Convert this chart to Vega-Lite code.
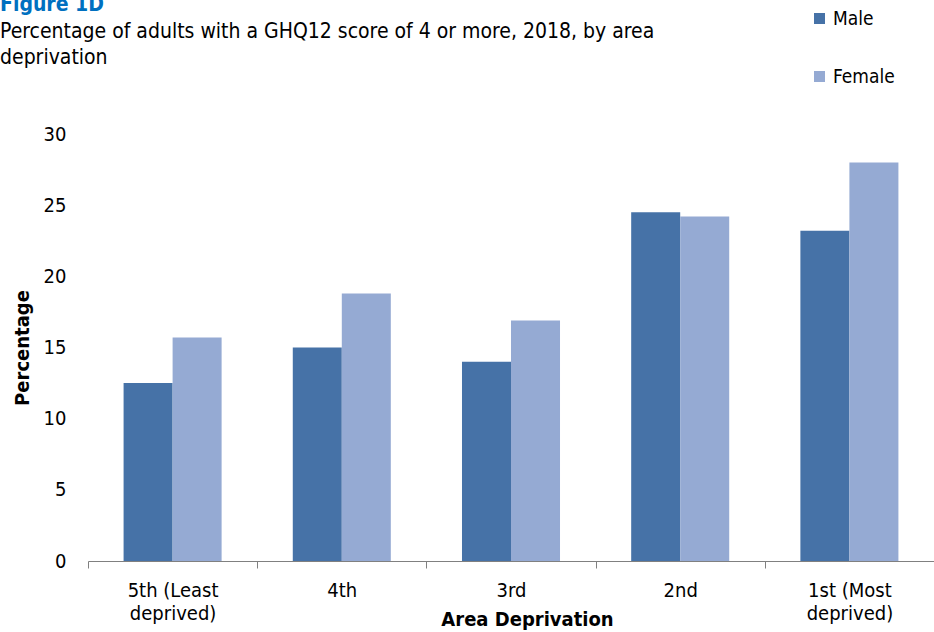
{
  "$schema": "https://vega.github.io/schema/vega-lite/v6.json",
  "autosize": "none",
  "width": 846,
  "height": 427,
  "padding": {"left": 88, "top": 134, "right": 0, "bottom": 71},
  "background": "white",
  "config": {
    "view": {"stroke": null},
    "font": "DejaVu Sans Condensed"
  },
  "title": {
    "text": "Figure  1D",
    "subtitle": ["Percentage of adults with a GHQ12 score of 4 or more, 2018, by area", "deprivation"],
    "anchor": "start",
    "frame": "group",
    "dx": -88,
    "offset": -59,
    "font": "DejaVu Sans Condensed",
    "fontSize": 21,
    "fontWeight": "bold",
    "color": "#0070C0",
    "subtitleFont": "DejaVu Sans Condensed",
    "subtitleFontSize": 21,
    "subtitleColor": "#000000",
    "subtitleLineHeight": 26,
    "subtitlePadding": 6
  },
  "data": {
    "values": [
      {"area": "5th (Least deprived)", "sex": "Male", "pct": 12.5},
      {"area": "5th (Least deprived)", "sex": "Female", "pct": 15.7},
      {"area": "4th", "sex": "Male", "pct": 15.0},
      {"area": "4th", "sex": "Female", "pct": 18.8},
      {"area": "3rd", "sex": "Male", "pct": 14.0},
      {"area": "3rd", "sex": "Female", "pct": 16.9},
      {"area": "2nd", "sex": "Male", "pct": 24.5},
      {"area": "2nd", "sex": "Female", "pct": 24.2},
      {"area": "1st (Most deprived)", "sex": "Male", "pct": 23.2},
      {"area": "1st (Most deprived)", "sex": "Female", "pct": 28.0}
    ]
  },
  "mark": {"type": "bar"},
  "encoding": {
    "x": {
      "field": "area",
      "type": "nominal",
      "sort": ["5th (Least deprived)", "4th", "3rd", "2nd", "1st (Most deprived)"],
      "scale": {"paddingInner": 0, "paddingOuter": 0},
      "axis": {
        "title": "Area Deprivation",
        "titleFontSize": 20,
        "titleFontWeight": "bold",
        "titleColor": "#000000",
        "titleX": 439,
        "titleY": 64,
        "titleBaseline": "alphabetic",
        "labelAngle": 0,
        "labelFontSize": 20,
        "labelColor": "#000000",
        "labelLineHeight": 23,
        "labelPadding": 12,
        "labelExpr": "datum.value == '5th (Least deprived)' ? ['5th (Least', 'deprived)'] : datum.value == '1st (Most deprived)' ? ['1st (Most', 'deprived)'] : datum.value",
        "tickBand": "extent",
        "tickSize": 7,
        "tickColor": "#808080",
        "domainColor": "#808080",
        "labelBound": false,
        "labelOverlap": false
      }
    },
    "xOffset": {
      "field": "sex",
      "type": "nominal",
      "sort": ["Male", "Female"],
      "scale": {"paddingInner": 0, "paddingOuter": 0.726}
    },
    "y": {
      "field": "pct",
      "type": "quantitative",
      "scale": {"domain": [0, 30]},
      "axis": {
        "title": "Percentage",
        "titleFontSize": 20,
        "titleFontWeight": "bold",
        "titleColor": "#000000",
        "titleX": -56,
        "values": [0, 5, 10, 15, 20, 25, 30],
        "grid": false,
        "domain": false,
        "ticks": false,
        "labelPadding": 22,
        "labelFontSize": 20,
        "labelColor": "#000000"
      }
    },
    "color": {
      "field": "sex",
      "type": "nominal",
      "sort": ["Male", "Female"],
      "scale": {"domain": ["Male", "Female"], "range": ["#4672A7", "#95AAD3"]},
      "legend": {
        "title": null,
        "orient": "none",
        "legendX": 722,
        "legendY": -125,
        "symbolType": "square",
        "symbolSize": 121,
        "symbolStrokeWidth": 0,
        "labelFontSize": 19,
        "labelColor": "#000000",
        "rowPadding": 38,
        "labelOffset": 4
      }
    }
  }
}
